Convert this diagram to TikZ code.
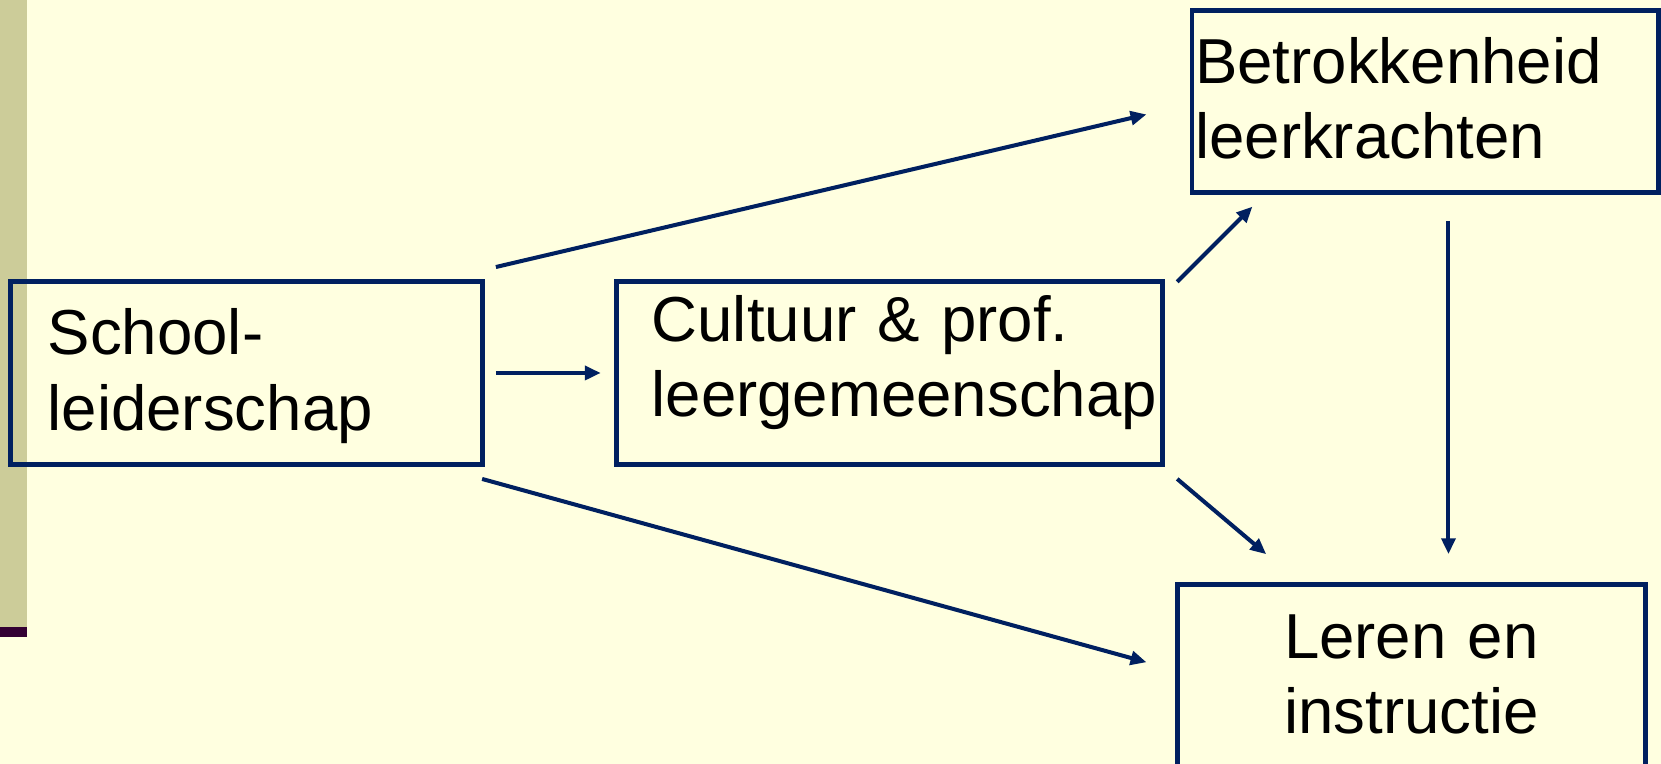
\documentclass[tikz,border=0pt]{standalone}
\usepackage{fontspec}
\setmainfont{Liberation Sans}
\usetikzlibrary{arrows.meta}
\definecolor{slidebg}{RGB}{255,255,224}
\definecolor{stripe}{RGB}{204,204,153}
\definecolor{stripeend}{RGB}{51,0,51}
\definecolor{navy}{RGB}{0,32,96}
\newcommand{\nohyph}{\hyphenpenalty 10000\relax}
\begin{document}
\begin{tikzpicture}[x=1pt,y=-1pt,>={Triangle[length=15pt,width=13pt]},
   box/.style={draw=navy,line width=4.6pt,outer sep=0pt,inner ysep=0pt,minimum height=172pt,
     font=\fontsize{60}{71}\selectfont\nohyph},
   arr/.style={->,draw=navy,line width=3.8pt}]
   \useasboundingbox (0,0) rectangle (1567.6,721);
   \fill[slidebg] (0,0) rectangle (1567.6,721);
   \fill[stripe] (0,0) rectangle (25.5,592);
   \fill[stripeend] (0,592) rectangle (25.5,601);

   \node[box,minimum width=445pt,text width=375pt,inner xsep=35pt,align=left,
     text height=44pt,text depth=78pt] (school) at (232.5,352) {School-\\leiderschap};
   \node[box,minimum width=515pt,text width=449pt,inner xsep=33pt,align=left,
     text height=44pt,text depth=104pt] (cult) at (839.5,352) {Cultuur \& prof.\\leergemeenschap};
   \node[box,minimum width=440pt,text width=434pt,inner xsep=3pt,align=left,
     text height=44pt,text depth=78pt] (betr) at (1345,95.5) {Betrokkenheid\\leerkrachten};
   \node[box,minimum width=442pt,text width=442pt,inner xsep=0pt,align=center,
     text height=44pt,text depth=77pt] (leren) at (1332,638) {Leren en\\instructie};

   \draw[arr] ([shift={(13,-14)}]school.north east) -- ([shift={(-43,12.5)}]betr.west);
   \draw[arr] ([xshift=13pt]school.east) -- ([xshift=-15pt]cult.west);
   \draw[arr] ([shift={(0,14)}]school.south east) -- ([shift={(-29,-13)}]leren.west);
   \draw[arr] ([xshift=14pt]cult.north east) -- ([shift={(57,13.5)}]betr.south west);
   \draw[arr] ([shift={(14,14)}]cult.south east) -- ([shift={(84,-29)}]leren.north west);
   \draw[arr] ([shift={(22,27)}]betr.south) -- ([shift={(35,-29)}]leren.north);
\end{tikzpicture}
\end{document}
